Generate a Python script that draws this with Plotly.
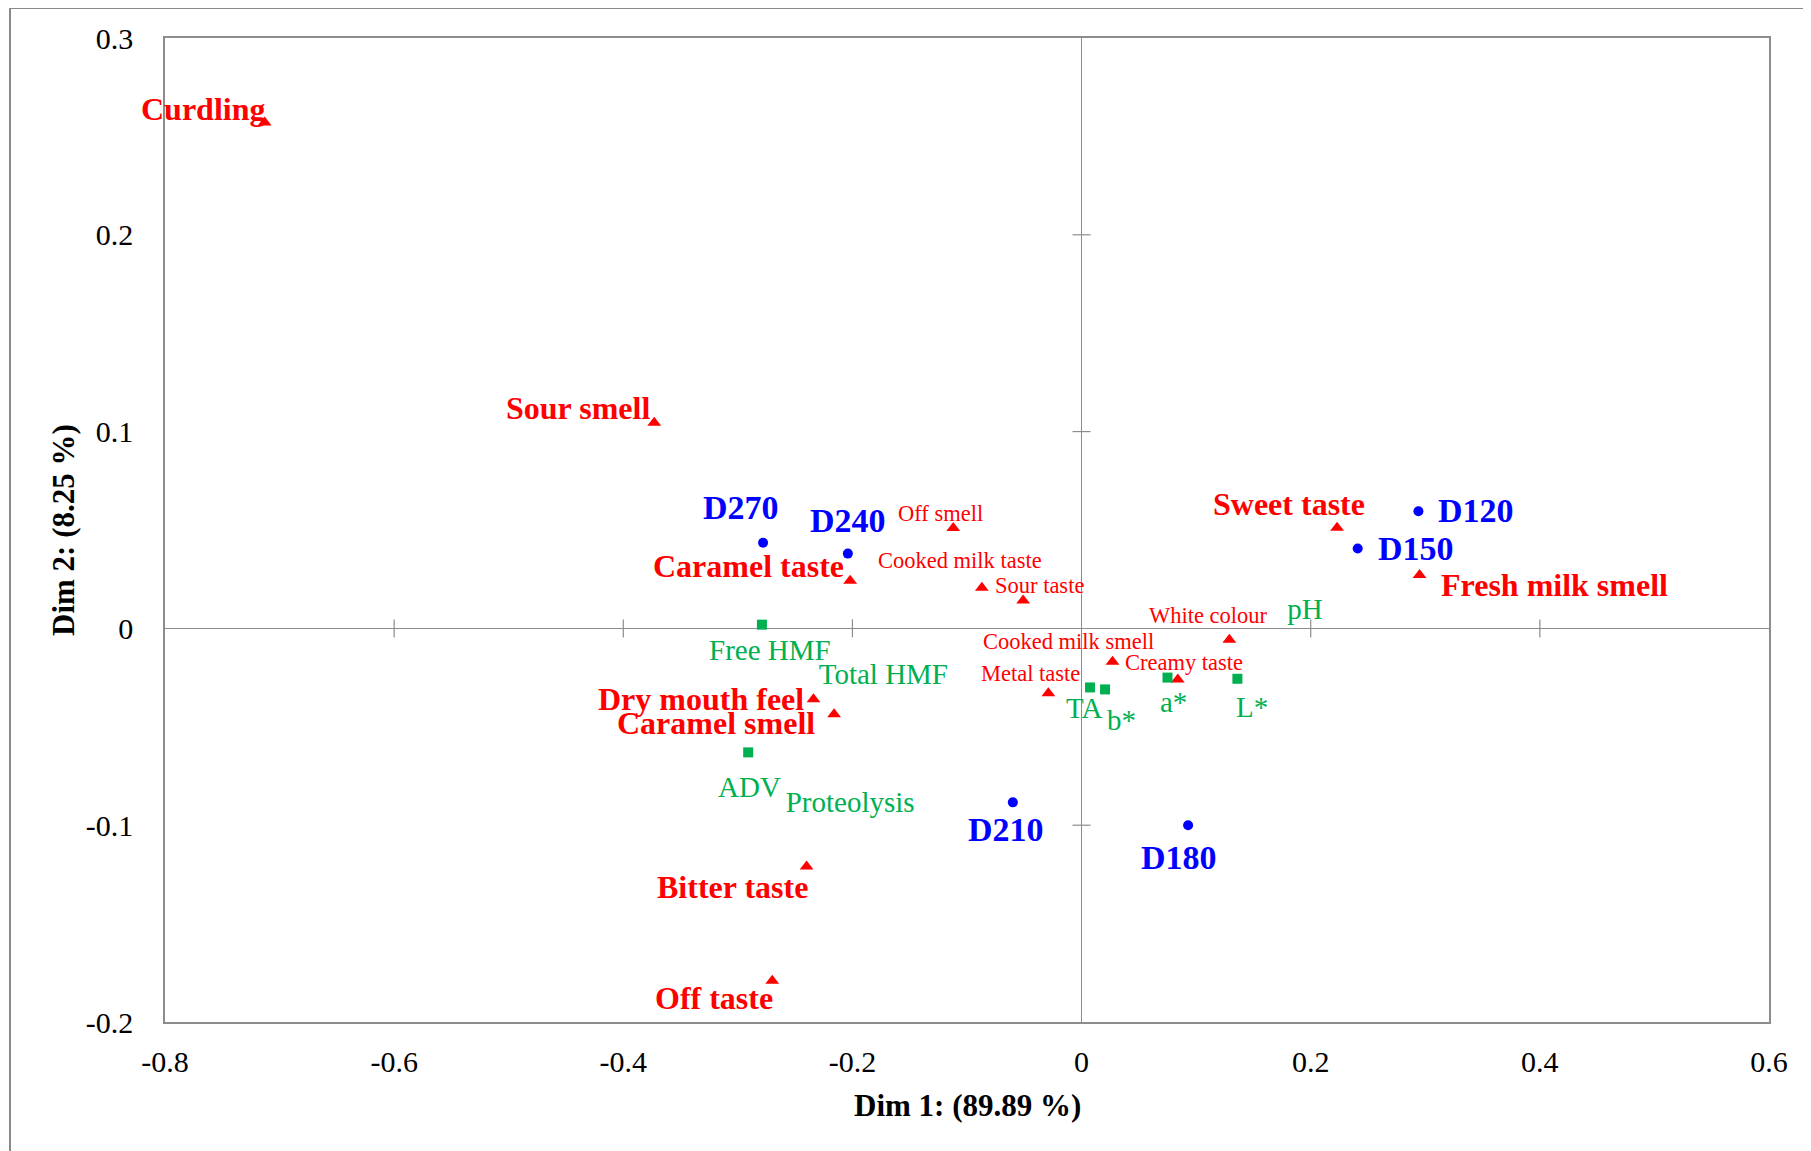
import plotly.graph_objects as go

# ---------------- data ----------------
# samples (blue circles)
sample_names = ["D270", "D240", "D120", "D150", "D210", "D180"]
sample_x = [-0.278, -0.204, 0.294, 0.241, -0.060, 0.093]
sample_y = [0.0435, 0.038, 0.0595, 0.0406, -0.0884, -0.100]

# sensory attributes (red triangles)
sens_names = ["Curdling", "Sour smell", "Caramel taste", "Sweet taste", "Fresh milk smell",
              "Dry mouth feel", "Caramel smell", "Bitter taste", "Off taste",
              "Off smell", "Cooked milk taste", "Sour taste", "White colour",
              "Cooked milk smell", "Creamy taste", "Metal taste"]
sens_x = [-0.713, -0.373, -0.202, 0.223, 0.295, -0.234, -0.216, -0.240, -0.270,
          -0.112, -0.087, -0.051, 0.129, 0.027, 0.084, -0.029]
sens_y = [0.257, 0.1045, 0.0242, 0.0512, 0.0271, -0.036, -0.0436, -0.121, -0.179,
          0.051, 0.0207, 0.0142, -0.0058, -0.017, -0.026, -0.033]
sens_bold = [True] * 9 + [False] * 7

# physico-chemical variables (green squares)
phys_names = ["Free HMF", "ADV", "TA", "b*", "a*", "L*"]
phys_x = [-0.279, -0.291, 0.0074, 0.0205, 0.075, 0.136]
phys_y = [0.0019, -0.063, -0.030, -0.031, -0.025, -0.0256]

# green labels without visible marker
phys_lbl_names = ["Total HMF", "Proteolysis", "pH"]
phys_lbl_x = [-0.173, -0.202, 0.195]
phys_lbl_y = [-0.0245, -0.0897, 0.0083]

x_ticks = [-0.8, -0.6, -0.4, -0.2, 0, 0.2, 0.4, 0.6]
y_ticks = [-0.2, -0.1, 0, 0.1, 0.2, 0.3]
x_tick_text = ["-0.8", "-0.6", "-0.4", "-0.2", "0", "0.2", "0.4", "0.6"]
y_tick_text = ["-0.2", "-0.1", "0", "0.1", "0.2", "0.3"]
x_title = "Dim 1: (89.89 %)"
y_title = "Dim 2: (8.25 %)"

# ---------------- styling (label offsets in px) ----------------
sample_off = {"D270": (-22, 35), "D240": (0, 33), "D120": (58, 1), "D150": (58, 0),
              "D210": (-7, -27), "D180": (-9, -32)}
sens_off = {"Curdling": (-62, 14), "Sour smell": (-76, 15), "Caramel taste": (-102, 15),
            "Sweet taste": (-48, 24), "Fresh milk smell": (135, -10),
            "Dry mouth feel": (-112, 0), "Caramel smell": (-118, -9),
            "Bitter taste": (-74, -20), "Off taste": (-58, -17),
            "Off smell": (-13, 15), "Cooked milk taste": (-22, 27), "Sour taste": (16, 15),
            "White colour": (-21, 24), "Cooked milk smell": (-44, 20),
            "Creamy taste": (6, 17), "Metal taste": (-18, 20)}
phys_off = {"Free HMF": (8, -25), "ADV": (1, -35), "TA": (-6, -21), "b*": (16, -31),
            "a*": (6, -24), "L*": (15, -28)}

RED = "#FF0000"
BLUE = "#0000FF"
GREEN = "#00B050"
FONT = "Liberation Serif, Times New Roman, serif"
AXC = "#8c8c8c"

fig = go.Figure()
fig.add_trace(go.Scatter(x=sens_x, y=sens_y, mode="markers",
                         marker=dict(symbol="triangle-up", size=12, color=RED),
                         hoverinfo="text", text=sens_names))
fig.add_trace(go.Scatter(x=phys_x, y=phys_y, mode="markers",
                         marker=dict(symbol="square", size=10, color=GREEN),
                         hoverinfo="text", text=phys_names))
fig.add_trace(go.Scatter(x=sample_x, y=sample_y, mode="markers",
                         marker=dict(symbol="circle", size=10, color=BLUE),
                         hoverinfo="text", text=sample_names))
fig.add_trace(go.Scatter(x=phys_lbl_x, y=phys_lbl_y, mode="text", text=phys_lbl_names,
                         textposition="middle center",
                         textfont=dict(family=FONT, size=29, color=GREEN),
                         hoverinfo="skip"))

ann = []
for n, x, y in zip(sample_names, sample_x, sample_y):
    dx, dy = sample_off[n]
    ann.append(dict(x=x, y=y, text="<b>%s</b>" % n, showarrow=False, xshift=dx, yshift=dy,
                    font=dict(family=FONT, size=34, color=BLUE)))
for n, x, y, b in zip(sens_names, sens_x, sens_y, sens_bold):
    dx, dy = sens_off[n]
    ann.append(dict(x=x, y=y, text=("<b>%s</b>" % n) if b else n, showarrow=False,
                    xshift=dx, yshift=dy,
                    font=dict(family=FONT, size=32 if b else 22.5, color=RED)))
for n, x, y in zip(phys_names, phys_x, phys_y):
    dx, dy = phys_off[n]
    ann.append(dict(x=x, y=y, text=n, showarrow=False, xshift=dx, yshift=dy,
                    font=dict(family=FONT, size=29, color=GREEN)))

# ---- layout geometry (page has an 8px body margin) ----
W, H = 1803, 1143
L, R, T, B = 157, 42, 30, 129
pw, ph = W - L - R, H - T - B
def px(v): return (v - L) / pw
def py(v): return (H - B - v) / ph

# axis titles
ann.append(dict(xref="paper", yref="paper", x=0.5, y=py(1014 + 83), text="<b>%s</b>" % x_title,
                showarrow=False, font=dict(family=FONT, size=31, color="black"),
                xanchor="center", yanchor="middle"))
ann.append(dict(xref="paper", yref="paper", x=px(55), y=0.5, text="<b>%s</b>" % y_title,
                showarrow=False, textangle=-90, font=dict(family=FONT, size=31, color="black"),
                xanchor="center", yanchor="middle"))

shapes = []
# cross tick marks on the zero lines
for t in x_ticks:
    if t not in (0, x_ticks[0], x_ticks[-1]):
        shapes.append(dict(type="line", xref="x", yref="y", x0=t, x1=t,
                           ysizemode="pixel", yanchor=0, y0=-9, y1=9,
                           line=dict(color=AXC, width=1.2)))
for t in y_ticks:
    if t not in (0, y_ticks[0], y_ticks[-1]):
        shapes.append(dict(type="line", xref="x", yref="y", y0=t, y1=t,
                           xsizemode="pixel", xanchor=0, x0=-9, x1=9,
                           line=dict(color=AXC, width=1.2)))
# outer image border (left and top)
shapes.append(dict(type="line", xref="paper", yref="paper", x0=px(2), x1=px(2),
                   y0=py(0), y1=py(H + 5), line=dict(color="#8a8a8a", width=2)))
shapes.append(dict(type="line", xref="paper", yref="paper", x0=px(2), x1=px(W + 5),
                   y0=py(0), y1=py(0), line=dict(color="#8a8a8a", width=2)))

fig.update_layout(
    width=W, height=H,
    margin=dict(l=L, r=R, t=T, b=B),
    paper_bgcolor="white", plot_bgcolor="white",
    showlegend=False,
    annotations=ann, shapes=shapes,
    font=dict(family=FONT, color="black"),
)
fig.update_xaxes(range=[-0.8, 0.6], tickvals=x_ticks, ticktext=x_tick_text,
                 showgrid=False, zeroline=True, zerolinecolor=AXC, zerolinewidth=1.2,
                 showline=True, mirror=True, linecolor=AXC, linewidth=1.5,
                 ticks="", ticklabelstandoff=12,
                 tickfont=dict(family=FONT, size=30, color="black"))
fig.update_yaxes(range=[-0.2, 0.3], tickvals=y_ticks, ticktext=y_tick_text,
                 showgrid=False, zeroline=True, zerolinecolor=AXC, zerolinewidth=1.2,
                 showline=True, mirror=True, linecolor=AXC, linewidth=1.5,
                 ticks="", ticklabelstandoff=24,
                 tickfont=dict(family=FONT, size=30, color="black"))

fig.write_html("out.html")
